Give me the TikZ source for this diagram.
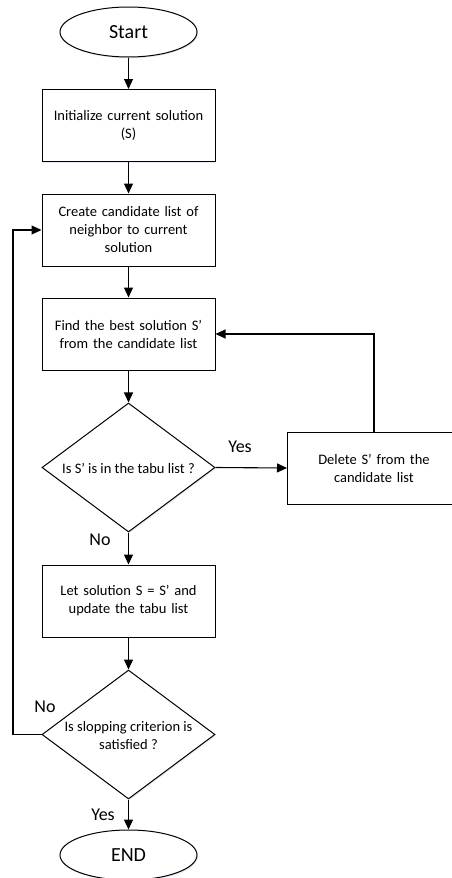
\documentclass[tikz,border=0pt]{standalone}
\usepackage{fontspec}
\setmainfont{Carlito}
\usetikzlibrary{shapes.geometric,arrows.meta,shadows}
\begin{document}
\begin{tikzpicture}[x=1pt,y=-1pt,
  base/.style={draw=black,line width=1pt,fill=white,align=center,font=\fontsize{14.5}{18}\selectfont,
    drop shadow={opacity=0.12,shadow xshift=1pt,shadow yshift=-1.3pt,fill=blue!50!gray}},
  procbox/.style={base,rectangle,minimum width=173pt,minimum height=72pt,text width=165pt},
  termnode/.style={base,ellipse,minimum width=137pt,minimum height=50pt,font=\fontsize{20}{22}\selectfont},
  decis/.style={base,diamond,minimum width=173pt,minimum height=129pt,aspect=1.34,inner sep=0pt},
  conn/.style={line width=1.1pt,-{Triangle[length=10pt,width=9pt]}},
  dtext/.style={font=\fontsize{14.5}{18}\selectfont,align=center},
  lbl/.style={font=\fontsize{18}{20}\selectfont}]
\useasboundingbox (0,0) rectangle (451,878);
\node[termnode] (start) at (128.5,32) {Start};
\node[procbox] (init) at (128.5,125.5) {Initialize current solution\\(S)};
\node[procbox] (cand) at (128.5,230) {Create candidate list of\\neighbor to current\\solution};
\node[procbox] (best) at (128.5,334) {Find the best solution S’\\from the candidate list};
\node[decis] (tabu) at (128.5,467.5) {};
\node[dtext] (tabut) at (128.5,468) {Is S’ is in the tabu list ?};
\node[procbox] (del) at (374,468) {Delete S’ from the\\candidate list};
\node[procbox] (upd) at (128.5,601) {Let solution S = S’ and\\update the tabu list};
\node[decis] (stop) at (128.5,734.5) {};
\node[dtext] (stopt) at (128.5,736) {Is slopping criterion is\\satisfied ?};
\node[termnode] (end) at (128.5,855) {END};
\coordinate (loopx) at (13,0);
\draw[conn] (start) -- (init);
\draw[conn] (init) -- (cand);
\draw[conn] (cand) -- (best);
\draw[conn] (best) -- (tabu);
\draw[conn] (tabu.east) -- (del.west);
\draw[conn] (del.north) |- (best.east);
\draw[conn] (tabu.south) -- (upd.north);
\draw[conn] (upd) -- (stop);
\draw[conn] (stop.south) -- (end.north);
\draw[conn] (stop.west) -| (loopx |- cand.west) -- (cand.west);
\node[lbl] (yes1) at (240,447) {Yes};
\node[lbl] (no1) at (100,540) {No};
\node[lbl] (no2) at (45,707) {No};
\node[lbl] (yes2) at (103,815) {Yes};
\end{tikzpicture}
\end{document}
